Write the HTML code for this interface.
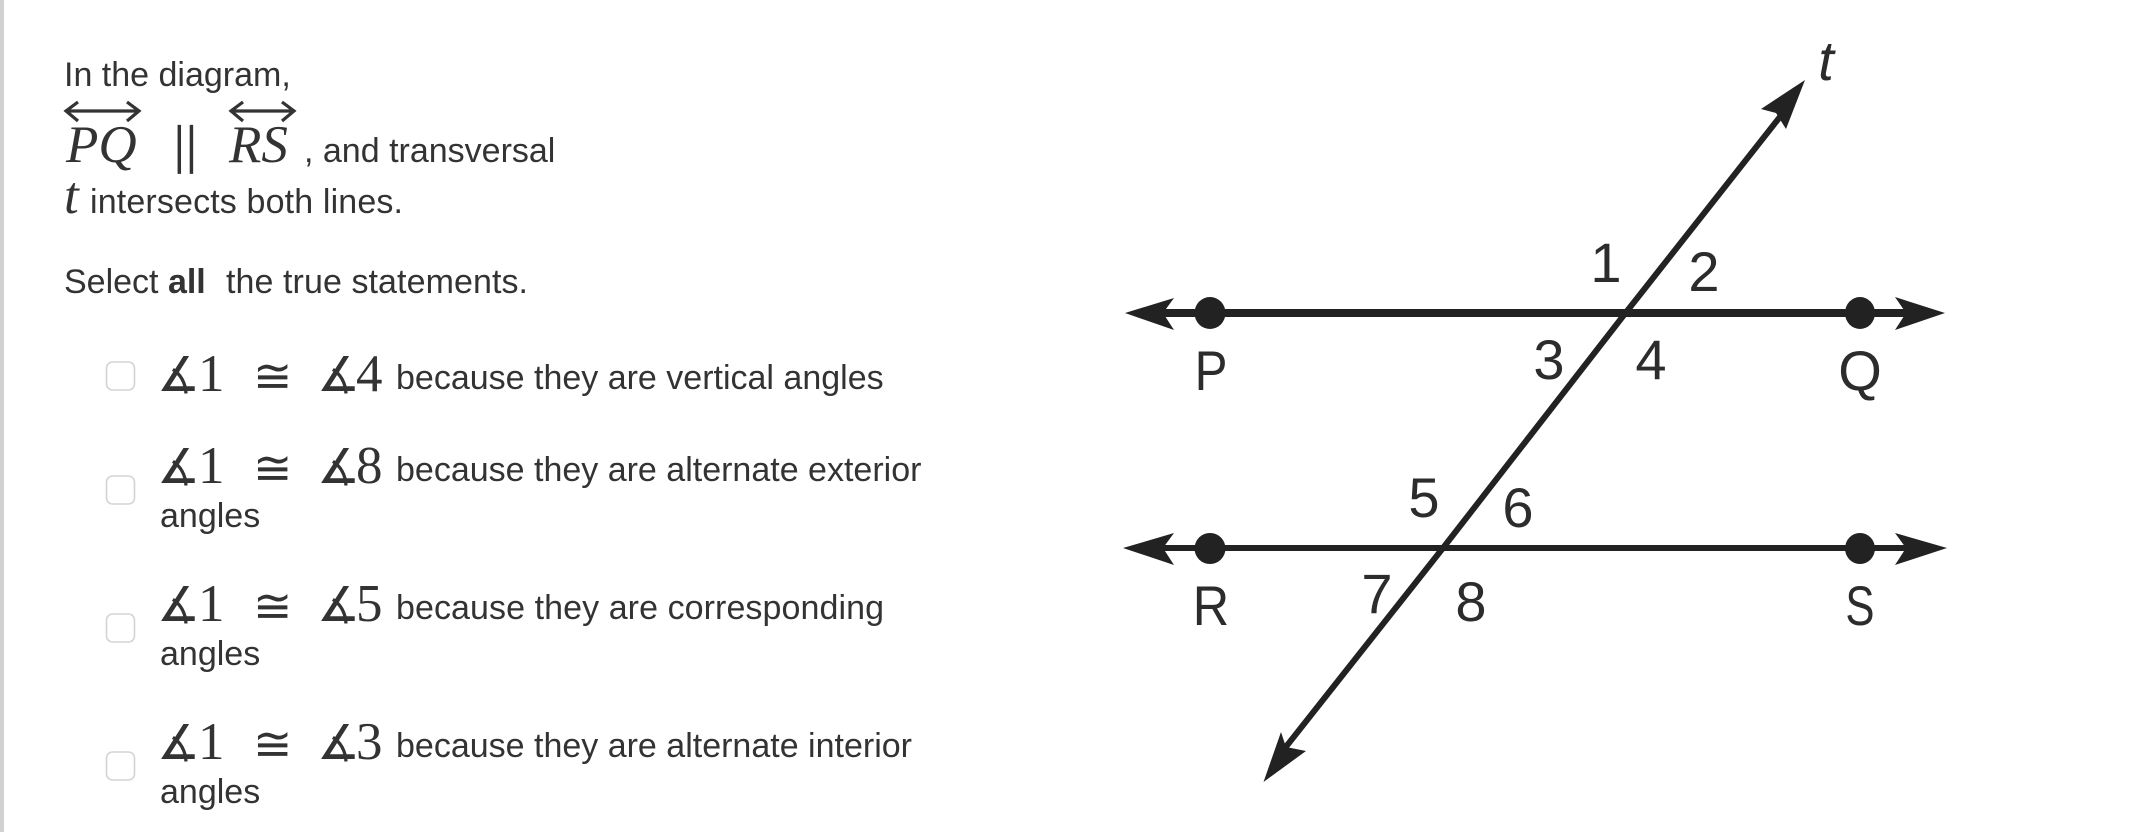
<!DOCTYPE html>
<html><head><meta charset="utf-8"><style>
html,body{margin:0;padding:0;background:#fff;width:2130px;height:832px;overflow:hidden}
svg{display:block}
.s{font-family:"Liberation Sans",sans-serif;font-size:34px;fill:#333}
.m{font-family:"Liberation Serif","DejaVu Serif",serif;font-size:53px;fill:#333}
.a{font-family:"DejaVu Sans",sans-serif;font-size:48px;fill:#333}
.c{font-family:"DejaVu Sans",sans-serif;font-size:47px;fill:#333}
.i{font-style:italic}
.l{font-family:"Liberation Sans",sans-serif;font-size:56px;fill:#2c2c2c;text-anchor:middle}
</style></head><body>
<svg width="2130" height="832" viewBox="0 0 2130 832" xmlns="http://www.w3.org/2000/svg">
<rect x="0" y="0" width="4" height="832" fill="#d2d2d2"/>
<text class="s" x="64" y="86">In the diagram,</text>
<g stroke="#333" stroke-width="3.2" fill="none">
<path d="M66 111H139M78 102L66 111L78 121M127 102L139 111L127 121"/>
<path d="M231 111H293M243 102L231 111L243 121M282 102L294 111L282 121"/>
</g>
<text class="m i" x="66" y="162">PQ</text>
<text class="m" x="174" y="162" letter-spacing="1.5" stroke="#333" stroke-width=".8">||</text>
<text class="m i" x="229" y="162">RS</text>
<text class="s" x="304" y="162">, and transversal</text>
<text class="m i" x="64" y="213">t</text>
<text class="s" x="90" y="213" textLength="313">intersects both lines.</text>
<text class="s" x="64" y="293">Select <tspan font-weight="bold">all</tspan></text>
<text class="s" x="226" y="293" textLength="302">the true statements.</text>

<g fill="#fff" stroke="#d4d4d4" stroke-width="1.6">
<rect x="106.500" y="362" width="28" height="28" rx="6"/>
<rect x="106.500" y="476" width="28" height="28" rx="6"/>
<rect x="106.500" y="614" width="28" height="28" rx="6"/>
<rect x="106.500" y="752" width="28" height="28" rx="6"/>
</g>

<text class="a" x="157" y="391">∡</text><text class="m" x="198" y="391">1</text><text class="c" x="253" y="392">≅</text><text class="a" x="317" y="391">∡</text><text class="m" x="356" y="391">4</text>
<text class="a" x="157" y="483">∡</text><text class="m" x="198" y="483">1</text><text class="c" x="253" y="484">≅</text><text class="a" x="317" y="483">∡</text><text class="m" x="356" y="483">8</text>
<text class="a" x="157" y="621">∡</text><text class="m" x="198" y="621">1</text><text class="c" x="253" y="622">≅</text><text class="a" x="317" y="621">∡</text><text class="m" x="356" y="621">5</text>
<text class="a" x="157" y="759">∡</text><text class="m" x="198" y="759">1</text><text class="c" x="253" y="760">≅</text><text class="a" x="317" y="759">∡</text><text class="m" x="356" y="759">3</text>

<text class="s" x="396" y="389">because they are vertical angles</text>
<text class="s" x="396" y="481">because they are alternate exterior</text>
<text class="s" x="160" y="527">angles</text>
<text class="s" x="396" y="619" textLength="488">because they are corresponding</text>
<text class="s" x="160" y="665">angles</text>
<text class="s" x="396" y="757">because they are alternate interior</text>
<text class="s" x="160" y="803">angles</text>

<g fill="#222" stroke="none">
<rect x="1150" y="309" width="770" height="8"/>
<rect x="1150" y="545" width="770" height="6"/>
<ellipse cx="1210" cy="313" rx="15.500" ry="16"/>
<ellipse cx="1860" cy="313" rx="15" ry="16"/>
<ellipse cx="1210" cy="548.500" rx="15.500" ry="15.500"/>
<ellipse cx="1860" cy="548.500" rx="15" ry="15.500"/>
<path d="M1125 313L1174 298L1163 313L1174 330Z"/>
<path d="M1945 313L1895 297L1906 313L1895 330Z"/>
<path d="M1123 548L1174 533L1163 548L1174 565Z"/>
<path d="M1947 548L1895 533L1906 548L1895 565Z"/>
<path d="M1805 80L1761 109L1776 113L1786 129Z"/>
<path d="M1263.500 782L1281 732L1286 747L1306 751Z"/>
</g>
<path d="M1783 113L1625.500 313L1443 548L1285 748" fill="none" stroke="#222" stroke-width="6"/>

<text class="l" style="font-style:italic" x="1826" y="80">t</text>
<text class="l" x="1606" y="282">1</text>
<text class="l" x="1704" y="291">2</text>
<text class="l" x="1549" y="379">3</text>
<text class="l" x="1651" y="379">4</text>
<text class="l" x="1424" y="517">5</text>
<text class="l" x="1518" y="527">6</text>
<text class="l" x="1377" y="613">7</text>
<text class="l" x="1471" y="621">8</text>
<text class="l" transform="translate(1211 390) scale(.88 1)" font-size="54">P</text>
<text class="l" transform="translate(1860 390)" font-size="54">Q</text>
<text class="l" transform="translate(1211 625) scale(.9 1)" font-size="54">R</text>
<text class="l" transform="translate(1860 625) scale(.78 1)" font-size="54">S</text>
</svg>
</body></html>
